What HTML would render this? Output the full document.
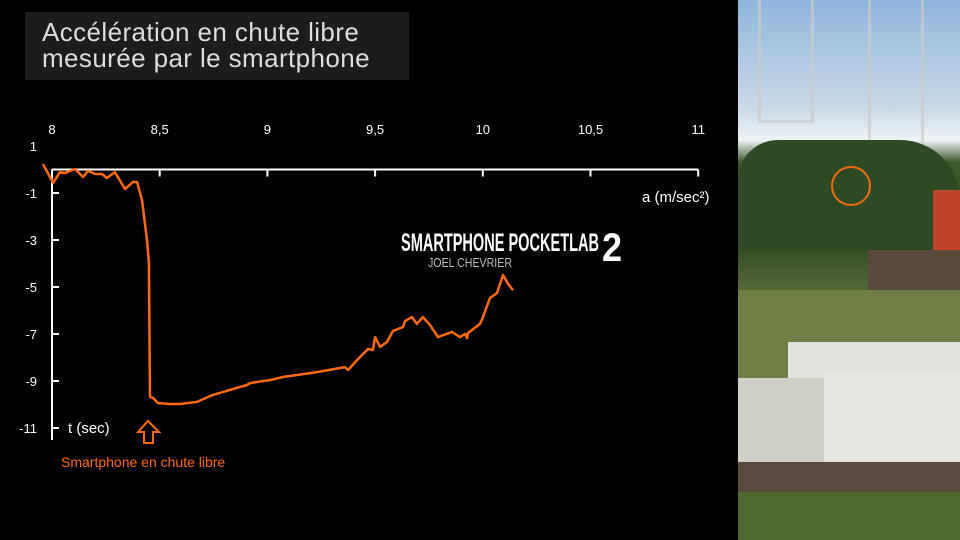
<!DOCTYPE html>
<html><head><meta charset="utf-8"><style>
body{margin:0;width:960px;height:540px;background:#000;overflow:hidden;font-family:"Liberation Sans",sans-serif;position:relative}
</style></head><body>
<div style="position:absolute;left:25px;top:12px;width:384px;height:68px;background:#1c1c1c"></div>
<div style="position:absolute;left:42px;top:19px;color:#ddd;font-size:26px;line-height:26px;letter-spacing:0.4px">Accélération en chute libre<br>mesurée par le smartphone</div>
<svg id="chart" width="738" height="540" style="position:absolute;left:0;top:0"></svg>
<div style="position:absolute;left:738px;top:0;width:222px;height:540px;overflow:hidden;background:linear-gradient(#8fb6dc 0%,#c9d9e8 20%,#eef2f5 26%,#3d5a2c 30%,#2f4a22 45%,#5b6e3a 55%,#7a8a55 65%,#8a9064 100%)">
 <div style="position:absolute;left:20px;top:0;width:50px;height:120px;border:3px solid #ccc;border-top:none;opacity:.7"></div>
 <div style="position:absolute;left:130px;top:0;width:50px;height:150px;border:3px solid #ccc;border-top:none;opacity:.7"></div>
 <div style="position:absolute;left:0;top:140px;width:222px;height:110px;background:#2e4a24;border-radius:40px 60px 0 0"></div>
 <div style="position:absolute;left:195px;top:190px;width:27px;height:60px;background:#c0442a"></div>
 <div style="position:absolute;left:130px;top:250px;width:92px;height:40px;background:#5a4a3c"></div>
 <div style="position:absolute;left:0;top:290px;width:222px;height:90px;background:#6f7f45"></div>
 <div style="position:absolute;left:50px;top:342px;width:172px;height:40px;background:#e2e2dc"></div>
 <div style="position:absolute;left:0;top:378px;width:96px;height:85px;background:#cfcfc8"></div>
 <div style="position:absolute;left:86px;top:372px;width:136px;height:90px;background:#e6e6e0"></div>
 <div style="position:absolute;left:0;top:462px;width:222px;height:30px;background:#5a4a40"></div>
 <div style="position:absolute;left:0;top:492px;width:222px;height:48px;background:#4f6a30"></div>
 <div style="position:absolute;left:93px;top:166px;width:36px;height:36px;border:2px solid #f06a10;border-radius:50%"></div>
</div>
<script>
const times=[7.958,8.005,8.037,8.060,8.107,8.144,8.167,8.200,8.232,8.255,8.292,8.339,8.376,8.395,8.418,8.441,8.450,8.455,8.469,8.492,8.548,8.594,8.673,8.747,8.826,8.905,8.919,8.980,9.012,9.072,9.230,9.360,9.374,9.416,9.467,9.490,9.500,9.523,9.555,9.583,9.630,9.639,9.671,9.694,9.722,9.755,9.792,9.857,9.894,9.917,9.927,9.931,9.987,10.001,10.033,10.066,10.094,10.117,10.140];
const accel=[0.23,-0.57,-0.11,-0.15,0.02,-0.32,-0.06,-0.19,-0.19,-0.36,-0.11,-0.83,-0.53,-0.53,-1.30,-3.0,-3.98,-9.68,-9.72,-9.94,-9.98,-9.98,-9.89,-9.59,-9.38,-9.17,-9.09,-9.0,-8.96,-8.83,-8.62,-8.41,-8.53,-8.11,-7.64,-7.68,-7.13,-7.55,-7.34,-6.87,-6.70,-6.45,-6.28,-6.57,-6.28,-6.62,-7.13,-6.91,-7.13,-7.0,-7.17,-6.96,-6.57,-6.28,-5.47,-5.26,-4.49,-4.87,-5.13];
const xTicks=["8","8,5","9","9,5","10","10,5","11"];
const xTickVals=[8,8.5,9,9.5,10,10.5,11];
const yTicks=["1","-1","-3","-5","-7","-9","-11"];
const yTickVals=[1,-1,-3,-5,-7,-9,-11];
const X=t=>52+(t-8)*215.4;
const Y=v=>169.5-v*23.5;
const svg=document.getElementById('chart');
const NS='http://www.w3.org/2000/svg';
function mk(tag,attrs){const e=document.createElementNS(NS,tag);for(const k in attrs)e.setAttribute(k,attrs[k]);svg.appendChild(e);return e;}
let e=mk('line',{x1:52,y1:Y(0),x2:698,y2:Y(0),stroke:'#fff','stroke-width':2});


e=mk('line',{x1:52,y1:Y(0),x2:52,y2:440,stroke:'#fff','stroke-width':2});


xTickVals.forEach((v,i)=>{
 const tk=mk('line',{x1:X(v),y1:Y(0),x2:X(v),y2:Y(0)+7,stroke:'#fff','stroke-width':2});
 
 
 const tx=mk('text',{x:X(v),y:134,fill:'#fff','font-size':13,'text-anchor':'middle','font-family':'Liberation Sans, sans-serif'});
 tx.textContent=xTicks[i];
 
 
});
yTickVals.forEach((v,i)=>{
 if(v<0){const tk=mk('line',{x1:52,y1:Y(v),x2:59,y2:Y(v),stroke:'#fff','stroke-width':2});
 
 }
 const tx=mk('text',{x:37,y:Y(v)+5,fill:'#fff','font-size':13,'text-anchor':'end','font-family':'Liberation Sans, sans-serif'});
 tx.textContent=yTicks[i];
 
 
});
const pts=times.map((t,i)=>X(t).toFixed(1)+','+Y(accel[i]).toFixed(1)).join(' ');
e=mk('polyline',{points:pts,fill:'none',stroke:'#ff6a10','stroke-width':2.5,'stroke-linejoin':'round'});


e=mk('text',{x:642,y:202,fill:'#fff','font-size':15,'font-family':'Liberation Sans, sans-serif'});
e.textContent='a (m/sec²)';


e=mk('text',{x:68,y:433,fill:'#fff','font-size':15,'font-family':'Liberation Sans, sans-serif'});
e.textContent='t (sec)';


e=mk('path',{d:'M148,421 L159,432 L153,432 L153,443 L144,443 L144,432 L138,432 Z',fill:'none',stroke:'#ff6a10','stroke-width':2,'stroke-linejoin':'miter'});


e=mk('text',{x:61,y:467,fill:'#ff6a10','font-size':14,'font-family':'Liberation Sans, sans-serif'});
e.textContent='Smartphone en chute libre';


e=mk('text',{x:401,y:251,fill:'#fff','font-size':25,'font-weight':'bold','font-family':'Liberation Sans, sans-serif','textLength':198,'lengthAdjust':'spacingAndGlyphs'});
e.textContent='SMARTPHONE POCKETLAB';


e=mk('text',{x:602,y:261,fill:'#fff','font-size':40,'font-weight':'bold','font-family':'Liberation Sans, sans-serif','textLength':20,'lengthAdjust':'spacingAndGlyphs'});
e.textContent='2';


e=mk('text',{x:428,y:267,fill:'#bbb','font-size':13,'font-family':'Liberation Sans, sans-serif','textLength':84,'lengthAdjust':'spacingAndGlyphs'});
e.textContent='JOEL CHEVRIER';


</script>
</body></html>
